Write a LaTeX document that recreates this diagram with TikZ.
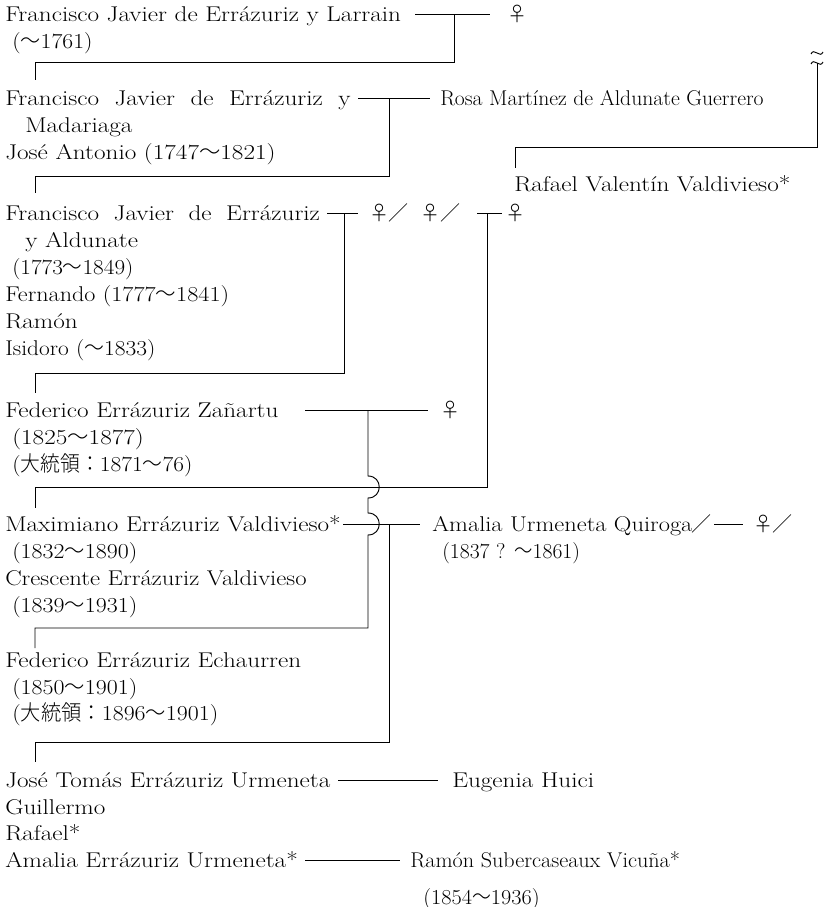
\documentclass[tikz,border=0pt]{standalone}
\usepackage{graphicx}
\usepackage{fontspec}
\setmainfont{Latin Modern Roman}[FakeStretch=1.18]
\newfontfamily\cjk{Noto Sans CJK JP}[UprightFont={* Light}]
\newcommand\kara{{\cjk ～}}
\newcommand\fem{{\cjk ♀}}
\newcommand\slsh{{\cjk ／}}
\newcommand\dtr{{\cjk 大統領：}}
\newcommand\hsq[2]{\scalebox{#1}[1]{#2}}
\begin{document}
\begin{tikzpicture}[x=0.75pt,y=-0.75pt,
  txt/.style={anchor=base west,inner sep=0pt,font=\fontsize{16}{19}\selectfont},
  sym/.style={anchor=base,inner sep=0pt,font=\fontsize{15}{18}\selectfont},
  ln/.style={line width=0.7pt}]
\useasboundingbox (0,0) rectangle (833,907);
% ---------- generation A
\node[txt] (a1) at (5,21) {Francisco Javier de Errázuriz y Larrain};
\node[txt] (a2) at (12,48) {\hsq{0.94}{(\kara1761)}};
\node[sym] (fa) at (517,21) {\fem};
% ---------- generation B
\node[txt] (b1) at (5,105) {\makebox[259pt][s]{Francisco Javier de Errázuriz y}};
\node[txt] (b2) at (25,132) {Madariaga};
\node[txt] (b3) at (5,159) {José Antonio (1747\kara1821)};
\node[txt] (rosa) at (440,105) {\hsq{0.86}{Rosa Martínez de Aldunate Guerrero}};
\node[txt] (rafv) at (514,191) {Rafael Valentín Valdivieso*};
% ---------- generation C
\node[txt] (c1) at (5,220) {\makebox[236pt][s]{Francisco Javier de Errázuriz}};
\node[txt] (c2) at (25,247) {y Aldunate};
\node[txt] (c3) at (12,274) {\hsq{0.92}{(1773\kara1849)}};
\node[txt] (c4) at (5,301) {\hsq{0.96}{Fernando (1777\kara1841)}};
\node[txt] (c5) at (5,328) {Ramón};
\node[txt] (c6) at (5,355) {\hsq{0.93}{Isidoro (\kara1833)}};
\node[sym] (fc1) at (379,220) {\fem};
\node[sym] (sc1) at (398,220) {\slsh};
\node[sym] (fc2) at (430,220) {\fem};
\node[sym] (sc2) at (450,220) {\slsh};
\node[sym] (fc3) at (515,220) {\fem};
% ---------- generation D
\node[txt] (d1) at (5,417) {Federico Errázuriz Zañartu};
\node[txt] (d2) at (12,444) {(1825\kara1877)};
\node[txt] (d3) at (12,471) {\hsq{0.93}{(\dtr1871\kara76)}};
\node[sym] (fd) at (450,417) {\fem};
% ---------- generation E
\node[txt] (e1) at (5,531) {Maximiano Errázuriz Valdivieso*};
\node[txt] (e2) at (12,558) {\hsq{0.95}{(1832\kara1890)}};
\node[txt] (e3) at (5,585) {\hsq{0.98}{Crescente Errázuriz Valdivieso}};
\node[txt] (e4) at (12,612) {\hsq{0.95}{(1839\kara1931)}};
\node[txt] (amq) at (432,531) {\hsq{0.97}{Amalia Urmeneta Quiroga}};
\node[sym] (se1) at (701,531) {\slsh};
\node[sym] (fe) at (763,531) {\fem};
\node[sym] (se2) at (782,531) {\slsh};
\node[txt] (amqd) at (442,558) {\hsq{0.86}{(1837 ? \kara1861)}};
% ---------- generation F
\node[txt] (f1) at (5,667) {Federico Errázuriz Echaurren};
\node[txt] (f2) at (12,694) {\hsq{0.95}{(1850\kara1901)}};
\node[txt] (f3) at (12,720) {\hsq{0.95}{(\dtr1896\kara1901)}};
% ---------- generation G
\node[txt] (g1) at (5,787) {José Tomás Errázuriz Urmeneta};
\node[txt] (g2) at (5,814) {Guillermo};
\node[txt] (g3) at (5,840) {Rafael*};
\node[txt] (g4) at (5,867) {Amalia Errázuriz Urmeneta*};
\node[txt] (eug) at (452,787) {Eugenia Huici};
\node[txt] (ram) at (410,867) {\hsq{0.88}{Ramón Subercaseaux Vicuña*}};
\node[txt] (ramd) at (423,904) {\hsq{0.885}{(1854\kara1936)}};
% ---------- junction coordinates
\coordinate (ja) at (454,14);
\coordinate (jb) at (389,98);
\coordinate (jc1) at (344,213);
\coordinate (jc2) at (487,213);
\coordinate (jd) at (368,410);
\coordinate (je) at (389,524);
\coordinate (brk) at (817,63);
% ---------- connectors
\draw[ln] (415,14) -- (490,14);
\draw[ln] (ja) |- (35,62) -- (35,80);
\draw[ln] (358,98) -- (430,98);
\draw[ln] (jb) |- (35,176) -- (35,193);
\draw[ln] (brk) |- (515,147) -- (515,168);
\draw[ln] (811,54) .. controls (814,47) and (820,59) .. (823,52);
\draw[ln] (811,64) .. controls (814,57) and (820,69) .. (823,62);
\draw[ln] (327,213) -- (358,213);
\draw[ln] (jc1) |- (35,373) -- (35,393);
\draw[ln] (477,213) -- (502,213);
\draw[ln] (jc2) |- (35,487) -- (35,508);
\draw[ln] (305,410) -- (428,410);
\draw[ln] (jd) -- (368,476) .. controls (383,476) and (383,498) .. (368,498)
  -- (368,513) .. controls (383,513) and (383,535) .. (368,535)
  |- (35,628) -- (35,648);
\draw[ln] (343,524) -- (420,524);
\draw[ln] (je) |- (35,742) -- (35,762);
\draw[ln] (714,524) -- (743,524);
\draw[ln] (338,780) -- (438,780);
\draw[ln] (305,860) -- (400,860);
\end{tikzpicture}
\end{document}
